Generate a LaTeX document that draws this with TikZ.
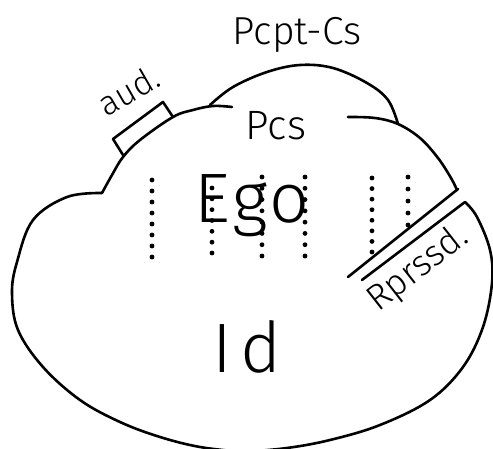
\documentclass[tikz,border=0pt]{standalone}
\usepackage{fontspec}
\setmainfont{Fira Sans Light}
\begin{document}
\begin{tikzpicture}[x=1pt,y=-1pt,
  outline/.style={line width=2.6pt, line cap=round, line join=round},
  lbl/.style={inner sep=0pt, anchor=base},
  dotty/.style={fill=black}]
\useasboundingbox (0,0) rectangle (493,449);
% left lobe and bottom
\draw[outline] plot[smooth, tension=0.6] coordinates {(102,193) (67,197) (33,220) (17,262) (12,293) (18,330) (43,367) (80,400) (120,422) (160,437) (200,447) (243,452)};
\draw[outline] plot[smooth, tension=0.6] coordinates {(243,452) (287,448) (330,440) (380,425) (430,400) (463,367) (483,327) (492,283) (490,250) (477,217) (465,202)};
% repressed lines
\draw[outline] (465,202) -- (362,280);
\draw[outline] (348,277) -- (458,189);
% upper left curve (Pcs left)
\draw[outline] plot[smooth, tension=0.6] coordinates {(102,193) (112,175) (123,157) (140,140) (173,117) (193,110) (213,106) (232,107)};
% Pcs right + right side
\draw[outline] plot[smooth, tension=0.6] coordinates {(348,117) (375,118) (398,124) (420,138) (438,158) (451,178) (457,190)};
% dome Pcpt-Cs
\draw[outline] plot[smooth, tension=0.6] coordinates {(210,105) (233,87) (267,72) (300,65) (333,68) (367,83) (388,100) (398,124)};
% aud. box
\draw[outline] (123,155) -- (113,139) -- (163,102) -- (173,117);
% dotted columns
\foreach \x/\ya/\yb/\n in {152/180/257/7, 212/188/253/6, 262/177/256/7, 305/177/256/7, 372/178/252/7, 408/177/225/4}{
  \foreach \i in {0,...,\n}{
    \fill[dotty] (\x,{\ya+\i*(\yb-\ya)/\n}) circle (2.4pt);
  }
}
% labels
\node[lbl, font=\fontsize{39}{40}\selectfont] (pcpt) at (297,45) {Pcpt-Cs};
\node[lbl, font=\fontsize{41}{42}\selectfont] (pcs) at (276,140) {Pcs};
\node[lbl, font=\fontsize{70}{72}\selectfont\addfontfeature{LetterSpace=4}] (ego) at (252,223) {Ego};
\node[lbl, font=\fontsize{70}{72}\selectfont] (id) at (247,372) {I\hspace{8pt}d};
\node[lbl, font=\fontsize{34}{36}\selectfont, rotate=30] (aud) at (135,101) {aud.};
\node[lbl, font=\fontsize{36}{38}\selectfont, rotate=38] (rep) at (424,277) {Rprssd.};
\end{tikzpicture}
\end{document}
